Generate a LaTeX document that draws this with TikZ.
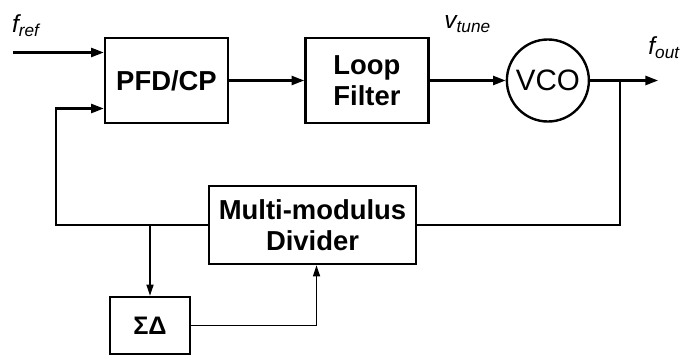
\documentclass[tikz,border=0pt]{standalone}
\usepackage{fontspec}
\setmainfont{Liberation Sans}
\usetikzlibrary{shapes.geometric, arrows, arrows.meta, positioning}
\tikzstyle{box} = [rectangle, minimum width=3.075cm, minimum height=2.125cm, text centered, align=center, draw=black, line width=1.7pt, font=\fontsize{19.5}{22}\selectfont\bfseries]
\tikzstyle{osc} = [circle, minimum size=2.05cm, inner sep=0pt, draw=black, line width=1.7pt, font=\fontsize{21}{24}\selectfont]
\tikzstyle{sig} = [inner sep=0pt, font=\fontsize{17.5}{20}\selectfont\itshape]
\tikzstyle{arrow} = [line width=1.7pt,-{Triangle[length=9pt,width=6.4pt]}]
\tikzstyle{line} = [line width=1.7pt]
\tikzstyle{thinarrow} = [line width=1.1pt,-{Triangle[length=8pt,width=5pt]}]
\newcommand{\sg}[2]{#1\textsubscript{#2}}

\begin{document}
\begin{tikzpicture}[x=0.025cm, y=-0.025cm]
				\useasboundingbox (0,0) rectangle (681,355);
				\node (pfd)[box] at (166.5,80.5) {PFD/CP};
				\node (loop)[box, right=1.875cm of pfd]{Loop\\Filter};
				\node (vco)[osc, right=1.9cm of loop]{VCO};
				\node (divider)[box, minimum width=5.175cm, minimum height=1.95cm] at (312.5,225) {Multi-modulus\\Divider};
				\node (sd)[box, minimum width=2cm, minimum height=1.425cm, font=\fontsize{18}{20}\selectfont\bfseries] at (150,325.5) {ΣΔ};
				\coordinate (in) at ([xshift=-2.275cm, yshift=0.7cm]pfd.west);
				\coordinate (fbk) at ([xshift=-1.2cm, yshift=-0.7cm]pfd.west);
				\coordinate (junc) at ([xshift=0.75cm]vco.east);
				\coordinate (out) at ([xshift=1.7cm]vco.east);
				\coordinate (tap) at (sd.north |- divider.west);
				\node (fref)[sig, anchor=base west] at ([xshift=-0.025cm, yshift=0.5cm]in) {\sg{f}{ref}};
				\node (fout)[sig, anchor=base west] at ([xshift=-0.25cm, yshift=0.65cm]out) {\sg{f}{out}};
				\draw [arrow] (in) -- ([yshift=0.7cm]pfd.west);
				\draw [arrow] (pfd) -- (loop);
				\draw [arrow] (loop) -- node[sig, anchor=base, yshift=1.3cm]{\sg{v}{tune}} (vco);
				\draw [arrow] (vco) -- (out);
				\draw [line] (junc) |- (divider.east);
				\draw [arrow] (divider.west) -| (fbk) -- ([yshift=-0.7cm]pfd.west);
				\draw [thinarrow] (tap) -- (sd.north);
				\draw [thinarrow] (sd.east) -| ([xshift=0.1cm]divider.south);
			\end{tikzpicture}
\end{document}
